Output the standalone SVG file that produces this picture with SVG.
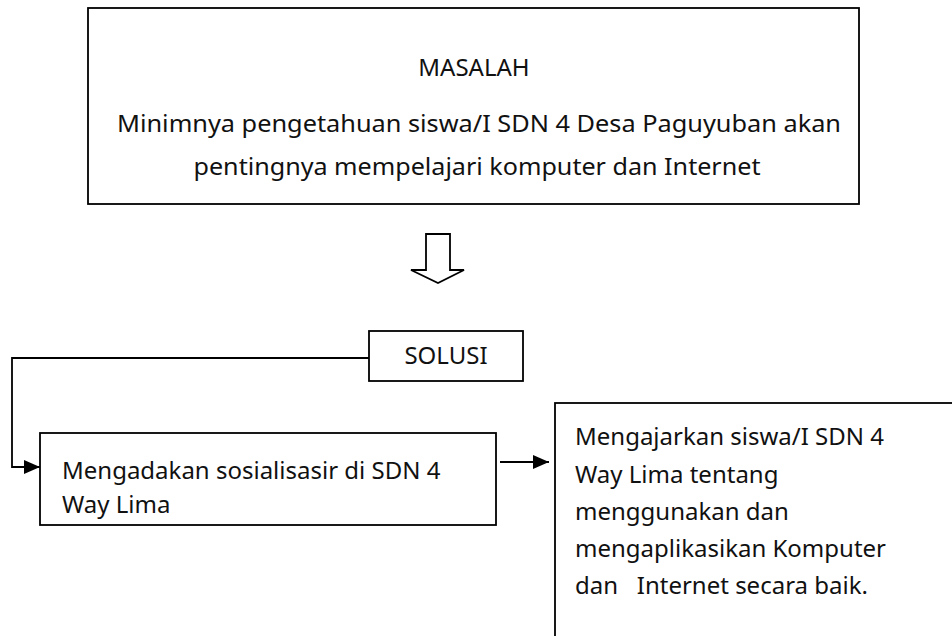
<svg xmlns="http://www.w3.org/2000/svg" width="952" height="636" viewBox="0 0 952 636">
  <style>
    .box { fill: #ffffff; stroke: #000000; stroke-width: 1.8; }
    .t { font-family: "Noto Sans", "Open Sans", sans-serif; font-size: 24px; fill: #111111; }
    .mid { text-anchor: middle; }
    .wire { fill: none; stroke: #000000; stroke-width: 1.8; }
  </style>
  <defs>
    <marker id="head" viewBox="0 0 16 14" refX="16" refY="7" markerWidth="16" markerHeight="14" markerUnits="userSpaceOnUse" orient="auto">
      <path d="M0,0 L16,7 L0,14 Z" fill="#000000"/>
    </marker>
  </defs>

  <rect width="952" height="636" fill="#ffffff"/>

  <g id="masalah">
    <rect class="box" x="88" y="8" width="771" height="196" stroke-width="2.2"/>
    <text class="t mid" x="474" y="76">MASALAH</text>
    <text class="t mid" x="479" y="132" textLength="724" lengthAdjust="spacingAndGlyphs">Minimnya pengetahuan siswa/I SDN 4 Desa Paguyuban akan</text>
    <text class="t mid" x="477" y="175" textLength="567" lengthAdjust="spacingAndGlyphs">pentingnya mempelajari komputer dan Internet</text>
  </g>

  <g id="down-arrow">
    <path class="wire" stroke-width="1.5" d="M426,234 L426,270 L411,270 L438,283 L464,270 L450,270 L450,234 Z"/>
  </g>

  <g id="solusi">
    <rect class="box" x="369" y="331" width="154" height="50"/>
    <text class="t mid" x="446" y="364">SOLUSI</text>
  </g>

  <g id="sosialisasi">
    <rect class="box" x="40" y="433" width="456" height="92"/>
    <text class="t" x="62" y="479">Mengadakan sosialisasir di SDN 4</text>
    <text class="t" x="62" y="513">Way Lima</text>
  </g>

  <g id="mengajarkan">
    <rect class="box" x="555" y="403" width="420" height="260"/>
    <text class="t" x="575" y="445">Mengajarkan siswa/I SDN 4</text>
    <text class="t" x="575" y="483">Way Lima tentang</text>
    <text class="t" x="575" y="520">menggunakan dan</text>
    <text class="t" x="575" y="557">mengaplikasikan Komputer</text>
    <text class="t" x="575" y="594" xml:space="preserve">dan   Internet secara baik.</text>
  </g>

  <g id="connectors">
    <path class="wire" d="M369,358 L12,358 L12,467 L40,467" marker-end="url(#head)"/>
    <path class="wire" d="M500,462 L549,462" marker-end="url(#head)"/>
  </g>
</svg>
